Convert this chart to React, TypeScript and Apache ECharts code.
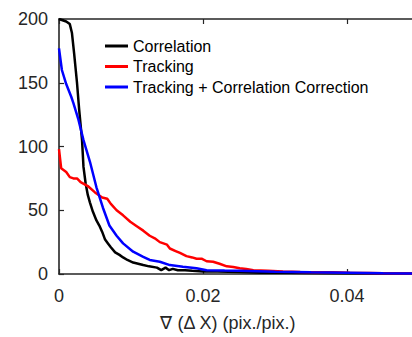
import React, { useEffect, useRef } from "react";
import * as echarts from "echarts";

// Gradient magnitude bins (pix./pix.) and counts for each method
const corrX = [0, 0.0005, 0.001, 0.0015, 0.0018, 0.0021, 0.0025, 0.0028, 0.0032, 0.0034, 0.0037, 0.0040, 0.0043, 0.0047, 0.0052, 0.0056, 0.0060, 0.0064, 0.0068, 0.0072, 0.0078, 0.0084, 0.0089, 0.0095, 0.0103, 0.0110, 0.0117, 0.0125, 0.0136, 0.0142, 0.0148, 0.0153, 0.0158, 0.0165, 0.0175, 0.0185, 0.0200, 0.0220, 0.0250, 0.0280, 0.0320, 0.0360, 0.0400, 0.0450, 0.0500];
const corrY = [200, 199, 198, 196, 189, 173, 150, 129, 105, 84, 71, 62, 56, 49, 42, 38, 33, 27, 24, 21, 17, 15, 13, 11, 9, 8, 7, 6, 5, 3, 5, 3, 4, 3, 3, 2.5, 2, 2, 1.5, 1, 1, 0.8, 0.6, 0.4, 0.3];

const trackX = [0, 0.0003, 0.001, 0.0015, 0.002, 0.0025, 0.003, 0.0040, 0.0050, 0.0060, 0.0067, 0.0072, 0.0080, 0.0089, 0.0099, 0.0108, 0.0117, 0.0126, 0.0133, 0.0140, 0.0150, 0.0154, 0.0162, 0.0168, 0.0177, 0.0185, 0.0191, 0.0198, 0.0205, 0.0214, 0.0223, 0.0233, 0.0242, 0.0251, 0.0260, 0.0270, 0.0290, 0.0311, 0.0335, 0.0358, 0.0380, 0.0404, 0.0430, 0.0450, 0.0500];
const trackY = [98, 83, 80, 76, 75, 75, 72, 69, 64, 60, 59, 55, 50, 46, 41, 37.5, 34, 30, 28, 25, 23, 20, 18, 16.5, 14, 13, 12, 12, 10, 9.6, 8, 6, 5.5, 4.5, 4, 3, 2.5, 2, 1.6, 1.3, 1.4, 1, 0.8, 0.5, 0.3];

const corrTrackX = [0, 0.0004, 0.001, 0.0017, 0.002, 0.0027, 0.0034, 0.0043, 0.0052, 0.0061, 0.0070, 0.0080, 0.0089, 0.0103, 0.0117, 0.0126, 0.0140, 0.0154, 0.0172, 0.0191, 0.0205, 0.0230, 0.0250, 0.0300, 0.0350, 0.0400, 0.0450, 0.0500];
const corrTrackY = [177, 160, 149, 139, 134, 121, 105, 88, 68, 52, 38, 30, 24, 17.5, 13.5, 11, 9.6, 7, 5.7, 4.5, 3, 2.7, 2.5, 1.8, 1.3, 1, 0.6, 0.4];

const seriesNames = ["Correlation", "Tracking", "Tracking + Correlation Correction"];
const seriesColors = ["#000000", "#ff0000", "#0000ff"];

const yTicks = { min: 0, max: 200, interval: 50 };
const xTicks = { min: 0, max: 0.05, interval: 0.02 };
const xTitle = "\u2207 (\u0394 X) (pix./pix.)";

const FONT = "'Liberation Sans', Arial, Helvetica, sans-serif";
const INK = "#262626";

const pairs = (xs: number[], ys: number[]) => xs.map((x, i) => [x, ys[i]]);

export default function App() {
  const ref = useRef<HTMLDivElement>(null);

  useEffect(() => {
    if (!ref.current) return;
    const chart = echarts.init(ref.current, undefined, { renderer: "svg" });
    const axisLine = { show: true, lineStyle: { color: INK, width: 1.6 } };
    const tick = { show: true, inside: true, length: 5, lineStyle: { color: INK, width: 1.2 } };

    const datasets = [pairs(corrX, corrY), pairs(trackX, trackY), pairs(corrTrackX, corrTrackY)];

    chart.setOption({
      animation: false,
      backgroundColor: "#ffffff",
      grid: { left: 59, top: 19, width: 360, height: 255, outerBoundsMode: "none" },
      legend: {
        orient: "vertical",
        left: 100,
        top: 33,
        itemGap: 4.5,
        itemWidth: 23,
        itemHeight: 3,
        icon: "rect",
        data: seriesNames,
        textStyle: { fontFamily: FONT, fontSize: 16, color: "#000000" },
      },
      xAxis: [
        {
          type: "value",
          position: "bottom",
          min: xTicks.min,
          max: xTicks.max,
          interval: xTicks.interval,
          axisLine,
          axisTick: tick,
          splitLine: { show: false },
          axisLabel: {
            fontFamily: FONT,
            fontSize: 18,
            color: INK,
            margin: 13,
            showMaxLabel: false,
            formatter: (v: number) => (v === 0 ? "0" : v.toFixed(2)),
          },
        },
        {
          type: "value",
          position: "top",
          min: xTicks.min,
          max: xTicks.max,
          interval: xTicks.interval,
          axisLine,
          axisTick: tick,
          splitLine: { show: false },
          axisLabel: { show: false },
        },
      ],
      yAxis: {
        type: "value",
        min: yTicks.min,
        max: yTicks.max,
        interval: yTicks.interval,
        axisLine,
        axisTick: tick,
        splitLine: { show: false },
        axisLabel: { fontFamily: FONT, fontSize: 18, color: INK, margin: 11 },
      },
      graphic: [
        {
          type: "text",
          x: 228,
          y: 323,
          style: {
            text: xTitle,
            fontFamily: FONT,
            fontSize: 18,
            fill: INK,
            align: "center",
            verticalAlign: "middle",
          },
        },
      ],
      series: seriesNames.map((name, i) => ({
        name,
        type: "line",
        data: datasets[i],
        showSymbol: false,
        symbol: "none",
        color: seriesColors[i],
        lineStyle: { color: seriesColors[i], width: 2.5 },
        z: 2 + i,
      })),
    });
    return () => chart.dispose();
  }, []);

  return (
    <div
      ref={ref}
      style={{ position: "fixed", left: 0, top: 0, width: 412, height: 337, background: "#fff" }}
    />
  );
}
